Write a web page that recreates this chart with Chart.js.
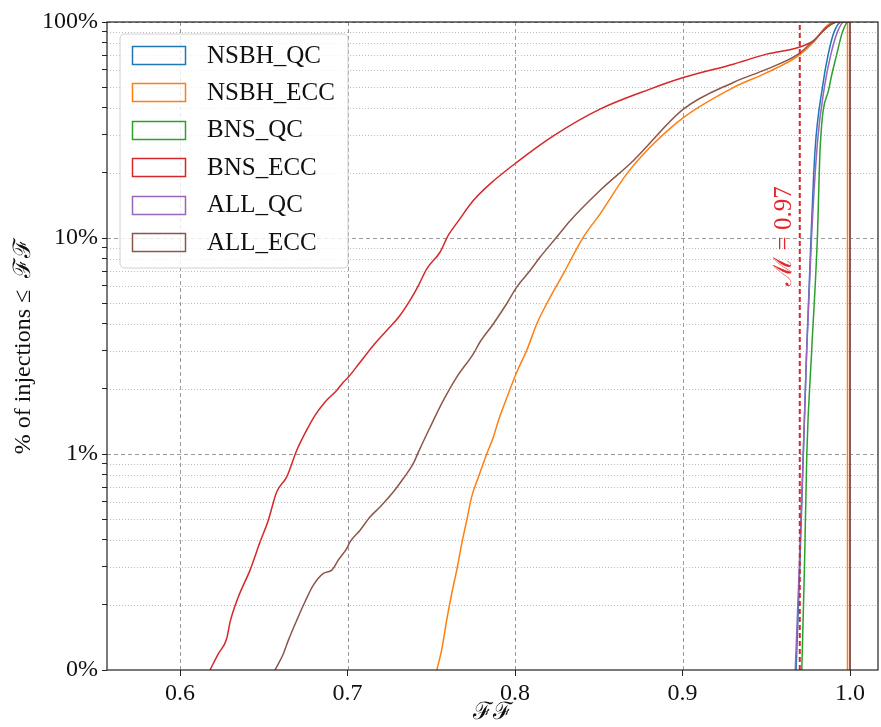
<!DOCTYPE html>
<html><head><meta charset="utf-8">
<script src="https://cdn.jsdelivr.net/npm/chart.js@4/dist/chart.umd.min.js"></script>
<style>html,body{margin:0;padding:0;background:#fff}canvas{display:block}</style>
</head><body>
<canvas id="c" width="881" height="727" style="width:881px;height:727px"></canvas>
<script>
// ---- data (FF value, cumulative % of injections <= FF) ----
const SERIES_NAMES = ['NSBH_QC', 'NSBH_ECC', 'BNS_QC', 'BNS_ECC', 'ALL_QC', 'ALL_ECC'];
const SERIES_COLORS = ['#1f77b4', '#ff7f0e', '#2ca02c', '#d62728', '#9467bd', '#8c564b'];

const NSBH_QC_FF  = [0.9678, 0.9700, 0.9721, 0.9741, 0.9767, 0.9791, 0.9835, 0.9870, 0.9905, 0.9950, 1.0000, 1.0000];
const NSBH_QC_PCT = [0.1,    0.3,    1.0,    3.0,    10.0,   25.4,   49.7,   71.0,   90.0,   100,    100,    0.1];

const NSBH_ECC_FF  = [0.7533, 0.7562, 0.7592, 0.7622, 0.7652, 0.7682, 0.7712, 0.7741, 0.7781, 0.7831, 0.7871, 0.7901, 0.7960, 0.8010, 0.8070, 0.8130, 0.8189, 0.8288, 0.8408, 0.8507, 0.8667, 0.8806, 0.9005, 0.9303, 0.9503, 0.9691, 0.9781, 0.9861, 0.9916, 0.9985, 0.9985];
const NSBH_ECC_PCT = [0.1,    0.124,  0.170,  0.226,  0.290,  0.385,  0.494,  0.633,  0.78,   1.0,    1.20,   1.43,   1.90,   2.39,   3.02,   4.01,   4.96,   6.82,   10.1,   12.9,   19.8,   26.3,   36.1,   49.7,   58.3,   69.7,   80.3,   95.9,   100,    100,    0.1];

const BNS_QC_FF  = [0.9712, 0.9728, 0.9742, 0.9771, 0.9805, 0.9821, 0.9876, 0.9921, 0.9955, 0.9990, 1.0000, 1.0000];
const BNS_QC_PCT = [0.1,    0.3,    1.0,    3.0,    10.0,   25.4,   50.0,   71.0,   90.0,   100,    100,    0.1];

const BNS_ECC_FF  = [0.6179, 0.6229, 0.6279, 0.6299, 0.6348, 0.6418, 0.6478, 0.6527, 0.6577, 0.6637, 0.6697, 0.6756, 0.6806, 0.6866, 0.6935, 0.6975, 0.7005, 0.7075, 0.7154, 0.7234, 0.7313, 0.7373, 0.7423, 0.7473, 0.7552, 0.7602, 0.7662, 0.7751, 0.7851, 0.8010, 0.8229, 0.8507, 0.8806, 0.9005, 0.9303, 0.9503, 0.9691, 0.9781, 0.9861, 0.9930, 1.0000, 1.0000];
const BNS_ECC_PCT = [0.1,    0.119,  0.140,  0.167,  0.218,  0.290,  0.392,  0.494,  0.667,  0.783,  1.04,   1.29,   1.51,   1.74,   1.97,   2.15,   2.27,   2.66,   3.18,   3.73,   4.38,   5.14,   6.02,   7.20,   8.59,   10.3,   12.0,   14.9,   17.8,   22.4,   29.7,   39.5,   48.9,   55.3,   63.8,   71.0,   76.2,   81.8,   94.5,   100,    100,    0.1];

const ALL_QC_FF  = [0.9673, 0.9697, 0.9721, 0.9741, 0.9770, 0.9806, 0.9847, 0.9886, 0.9925, 0.9964, 1.0000, 1.0000];
const ALL_QC_PCT = [0.1,    0.3,    1.0,    3.0,    10.0,   28.0,   50.0,   71.0,   90.0,   100,    100,    0.1];

const ALL_ECC_FF  = [0.6567, 0.6617, 0.6647, 0.6697, 0.6746, 0.6796, 0.6856, 0.6906, 0.6945, 0.6995, 0.7015, 0.7075, 0.7134, 0.7194, 0.7273, 0.7333, 0.7393, 0.7423, 0.7493, 0.7572, 0.7652, 0.7751, 0.7791, 0.7871, 0.7950, 0.8010, 0.8090, 0.8149, 0.8249, 0.8328, 0.8507, 0.8706, 0.9005, 0.9303, 0.9503, 0.9691, 0.9781, 0.9881, 0.9916, 1.0000, 1.0000];
const ALL_ECC_PCT = [0.1,    0.119,  0.1375, 0.170,  0.207,  0.247,  0.280,  0.290,  0.323,  0.365,  0.392,  0.444,  0.511,  0.569,  0.667,  0.770,  0.904,  1.02,   1.33,   1.77,   2.27,   2.91,   3.30,   4.01,   4.96,   5.92,   7.07,   8.14,   10.1,   12.0,   16.6,   22.8,   39.5,   52.5,   60.5,   71.0,   81.8,   97.0,   100,    100,    0.1];

const SERIES_FF  = [NSBH_QC_FF, NSBH_ECC_FF, BNS_QC_FF, BNS_ECC_FF, ALL_QC_FF, ALL_ECC_FF];
const SERIES_PCT = [NSBH_QC_PCT, NSBH_ECC_PCT, BNS_QC_PCT, BNS_ECC_PCT, ALL_QC_PCT, ALL_ECC_PCT];

const THRESHOLD = 0.97;
const THRESHOLD_LABEL = 'ℳ = 0.97';

const X_TICKS = [0.6, 0.7, 0.8, 0.9, 1.0];
const X_TICK_LABELS = ['0.6', '0.7', '0.8', '0.9', '1.0'];
const Y_MAJOR = [0.1, 1, 10, 100];
const Y_TICK_LABELS = ['0%', '1%', '10%', '100%'];
const Y_MINOR = [0.2, 0.3, 0.4, 0.5, 0.6, 0.7, 0.8, 0.9, 2, 3, 4, 5, 6, 7, 8, 9, 20, 30, 40, 50, 60, 70, 80, 90];
const X_TITLE = 'ℱℱ';
const Y_TITLE = '% of injections ≤  ℱℱ';

const X_MIN = 0.5564, X_MAX = 1.0167, Y_MIN = 0.1, Y_MAX = 100;

const FONT = "'Liberation Serif', 'DejaVu Serif', serif";
Chart.defaults.font.family = FONT;
Chart.defaults.color = '#111';

const datasets = SERIES_NAMES.map((name, i) => ({
  label: name,
  data: SERIES_FF[i].map((x, k) => ({x: x, y: SERIES_PCT[i][k]})),
  borderColor: SERIES_COLORS[i],
  borderWidth: 1.5,
  pointRadius: 0,
  showLine: true,
  fill: false,
  cubicInterpolationMode: 'monotone',
  order: 10 - i
}));
datasets.push({
  label: '_threshold',
  data: [{x: THRESHOLD, y: Y_MIN}, {x: THRESHOLD, y: Y_MAX}],
  borderColor: '#d62728',
  borderWidth: 2,
  borderDash: [5, 3],
  pointRadius: 0,
  showLine: true,
  order: 0
});

const gridPlugin = {
  id: 'mplGrid',
  beforeDatasetsDraw(chart) {
    const {ctx, chartArea: a, scales: {x, y}} = chart;
    ctx.save();
    ctx.beginPath(); ctx.rect(a.left, a.top, a.right - a.left, a.bottom - a.top); ctx.clip();
    ctx.lineWidth = 1;
    y.ticks.forEach(t => {
      const major = Y_MAJOR.includes(t.value);
      const py = Math.round(y.getPixelForValue(t.value)) + 0.5;
      ctx.setLineDash(major ? [4, 3] : [1, 2]);
      ctx.strokeStyle = major ? '#9a9a9a' : '#bcbcbc';
      ctx.beginPath(); ctx.moveTo(a.left, py); ctx.lineTo(a.right, py); ctx.stroke();
    });
    x.ticks.forEach(t => {
      const px = Math.round(x.getPixelForValue(t.value)) + 0.5;
      ctx.setLineDash([4, 3]);
      ctx.strokeStyle = '#9a9a9a';
      ctx.beginPath(); ctx.moveTo(px, a.top); ctx.lineTo(px, a.bottom); ctx.stroke();
    });
    ctx.restore();
  },
  afterDatasetsDraw(chart) {
    const {ctx, chartArea: a, scales: {x, y}} = chart;
    ctx.save();
    ctx.translate(x.getPixelForValue(THRESHOLD) - 15, y.getPixelForValue(10) - 2);
    ctx.rotate(-Math.PI / 2);
    ctx.font = '25px ' + FONT;
    ctx.fillStyle = '#e3262b';
    ctx.textAlign = 'center';
    ctx.textBaseline = 'middle';
    ctx.fillText(THRESHOLD_LABEL, 0, 0);
    ctx.restore();
    ctx.save();
    ctx.strokeStyle = '#222';
    ctx.lineWidth = 1.2;
    ctx.strokeRect(a.left, a.top, a.right - a.left, a.bottom - a.top);
    ctx.restore();
  },
  afterDraw(chart) {
    const ctx = chart.ctx;
    ctx.save();
    const L = 120, T = 34, W = 228, H = 234, r = 5;
    ctx.beginPath();
    ctx.moveTo(L + r, T); ctx.lineTo(L + W - r, T); ctx.quadraticCurveTo(L + W, T, L + W, T + r);
    ctx.lineTo(L + W, T + H - r); ctx.quadraticCurveTo(L + W, T + H, L + W - r, T + H);
    ctx.lineTo(L + r, T + H); ctx.quadraticCurveTo(L, T + H, L, T + H - r);
    ctx.lineTo(L, T + r); ctx.quadraticCurveTo(L, T, L + r, T);
    ctx.closePath();
    ctx.fillStyle = 'rgba(255,255,255,0.8)';
    ctx.fill();
    ctx.strokeStyle = '#d0d0d0';
    ctx.lineWidth = 1;
    ctx.stroke();
    ctx.font = '25px ' + FONT;
    ctx.textBaseline = 'middle';
    ctx.textAlign = 'left';
    SERIES_NAMES.forEach((name, i) => {
      const cy = 55 + i * 37.4;
      ctx.strokeStyle = SERIES_COLORS[i];
      ctx.lineWidth = 1.5;
      ctx.strokeRect(132.5, Math.round(cy - 9) + 0.5, 53, 18);
      ctx.fillStyle = '#111';
      ctx.fillText(name, 207, cy + 1);
    });
    ctx.restore();
  }
};

new Chart(document.getElementById('c'), {
  type: 'scatter',
  data: {datasets},
  options: {
    responsive: false,
    devicePixelRatio: 1,
    animation: false,
    events: [],
    layout: {padding: {top: 22, right: 3, left: 0, bottom: 0}},
    plugins: {legend: {display: false}, tooltip: {enabled: false}},
    scales: {
      x: {
        type: 'linear', min: X_MIN, max: X_MAX, bounds: 'data',
        afterBuildTicks: s => { s.ticks = X_TICKS.map(v => ({value: v})); },
        afterFit: s => { s.height = 57; },
        grid: {drawOnChartArea: false, drawTicks: true, tickLength: 6, tickColor: '#222', tickWidth: 1},
        border: {display: false},
        ticks: {font: {size: 24}, color: '#111', padding: 3, maxRotation: 0, autoSkip: false,
                callback: (v, i) => X_TICK_LABELS[i]},
        title: {display: true, text: X_TITLE, font: {size: 24, lineHeight: 1.2}, color: '#111', padding: {top: 0, bottom: 0}}
      },
      y: {
        type: 'logarithmic', min: Y_MIN, max: Y_MAX, bounds: 'data',
        afterBuildTicks: s => {
          s.ticks = Y_MAJOR.concat(Y_MINOR).sort((a, b) => a - b).map(v => ({value: v, major: false}));
        },
        afterFit: s => { s.width = 107; },
        grid: {drawOnChartArea: false, drawTicks: true, tickLength: 5, tickColor: '#222', tickWidth: 1},
        border: {display: false},
        ticks: {font: {size: 24}, color: '#111', padding: 4, autoSkip: false,
                callback: v => { const k = Y_MAJOR.indexOf(v); return k >= 0 ? Y_TICK_LABELS[k] : ''; }},
        title: {display: true, text: Y_TITLE, font: {size: 24, lineHeight: 1.2}, color: '#111', padding: {top: 9, bottom: 0}}
      }
    }
  },
  plugins: [gridPlugin]
});
</script>
</body></html>
